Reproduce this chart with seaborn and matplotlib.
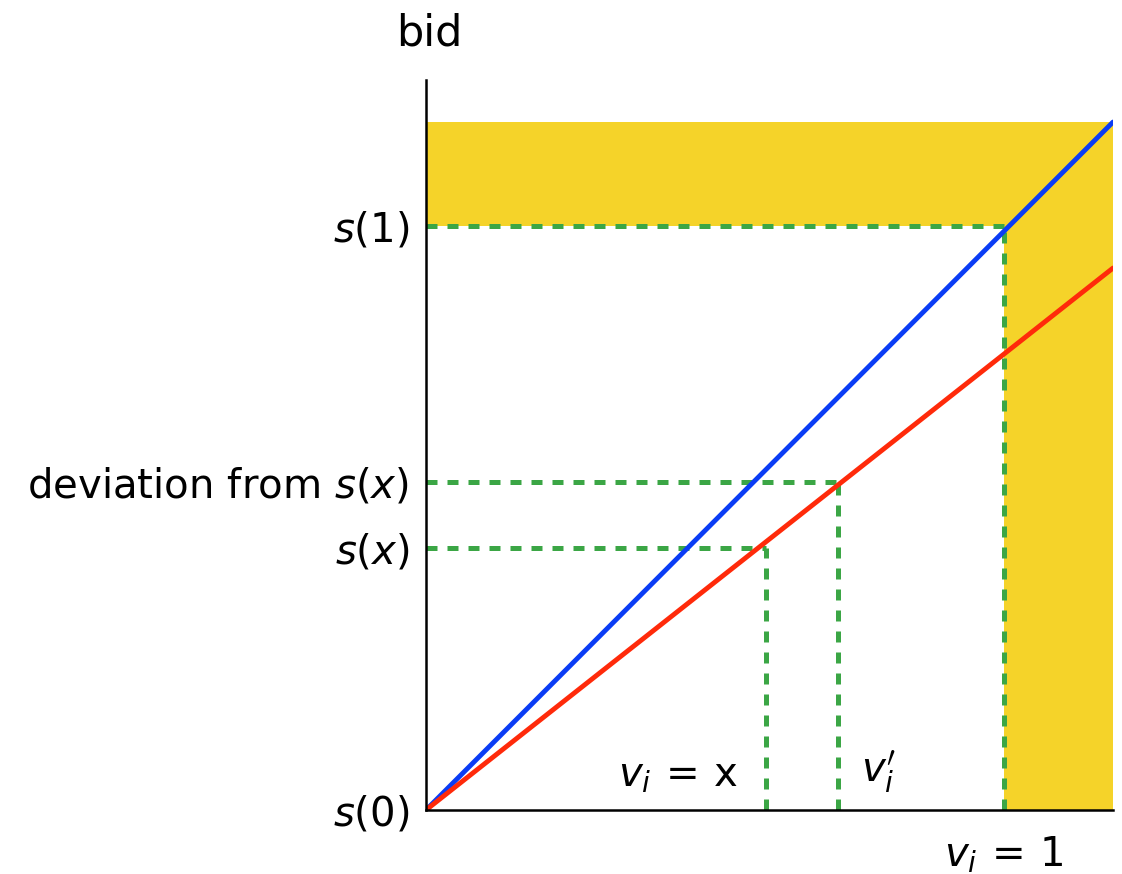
import seaborn as sns
import matplotlib.pyplot as plt
import pandas as pd

# values (v on x, bid on y)
v_line = [0.0, 1.189]
blue_bid = [0.0, 1.178]
red_bid = [0.0, 0.928]
v_x, s_x = 0.589, 0.449
v_dev, s_dev = 0.713, 0.562
v_one, s_one = 1.0, 1.0
band_top = 1.178
ytick_vals = [0.0, s_x, s_dev, s_one]
ytick_labels = [r'$s(0)$', r'$s(x)$', r'deviation from $s(x)$', r'$s(1)$']

sns.set_style('white')
plt.rcParams['font.family'] = ['DejaVu Sans']
plt.rcParams['mathtext.fontset'] = 'dejavusans'
plt.rcParams['font.size'] = 29
plt.rcParams['text.color'] = 'black'
plt.rcParams['xtick.color'] = 'black'
plt.rcParams['ytick.color'] = 'black'

fig = plt.figure(figsize=(11.22, 8.74), dpi=100)
ax = fig.add_axes([426 / 1122, 64 / 874, 687 / 1122, 730 / 874])

yellow = '#f5d329'
green = '#3ba645'

# yellow bands
ax.fill_between([0, v_line[1]], s_one, band_top, color=yellow, lw=0, zorder=1)
ax.fill_between([v_one, v_line[1]], 0, band_top, color=yellow, lw=0, zorder=1)

df = pd.DataFrame({'v': v_line * 2, 'bid': blue_bid + red_bid,
                   'strategy': ['blue'] * 2 + ['red'] * 2})
sns.lineplot(data=df, x='v', y='bid', hue='strategy',
             palette={'blue': '#0a3cf5', 'red': '#ff2a0a'},
             lw=3.5, legend=False, ax=ax, zorder=3)

dash = dict(color=green, lw=3.6, ls=(0, (2.2, 2.0)), zorder=2)
for vx, sy in [(v_x, s_x), (v_dev, s_dev), (v_one, s_one)]:
    ax.plot([0, vx], [sy, sy], **dash)
    ax.plot([vx, vx], [0, sy], **dash)

ax.set_xlim(0, v_line[1])
ax.set_ylim(0, 730 / 584)
for side in ['top', 'right']:
    ax.spines[side].set_visible(False)
for side in ['left', 'bottom']:
    ax.spines[side].set_linewidth(1.8)
    ax.spines[side].set_color('black')
    ax.spines[side].set_zorder(4)

ax.set_yticks(ytick_vals)
ax.set_yticklabels(ytick_labels)
ax.set_xticks([v_one])
ax.set_xticklabels([r'$v_i\,=\,1$'])
ax.tick_params(axis='both', length=0, labelsize=29)
ax.tick_params(axis='y', pad=12)
ax.tick_params(axis='x', pad=18)
ax.set_xlabel('')
ax.set_ylabel('')

ax.text(v_x - 0.05, 0.025, r'$v_i\,=\,$x', ha='right', va='bottom', fontsize=29)
ax.text(v_dev + 0.04, 0.025, r"$v_i'$", ha='left', va='bottom', fontsize=29)
ax.text(0.005, 1.035, 'bid', transform=ax.transAxes, ha='center', va='bottom', fontsize=31)

fig.savefig('out.png', dpi=100)
